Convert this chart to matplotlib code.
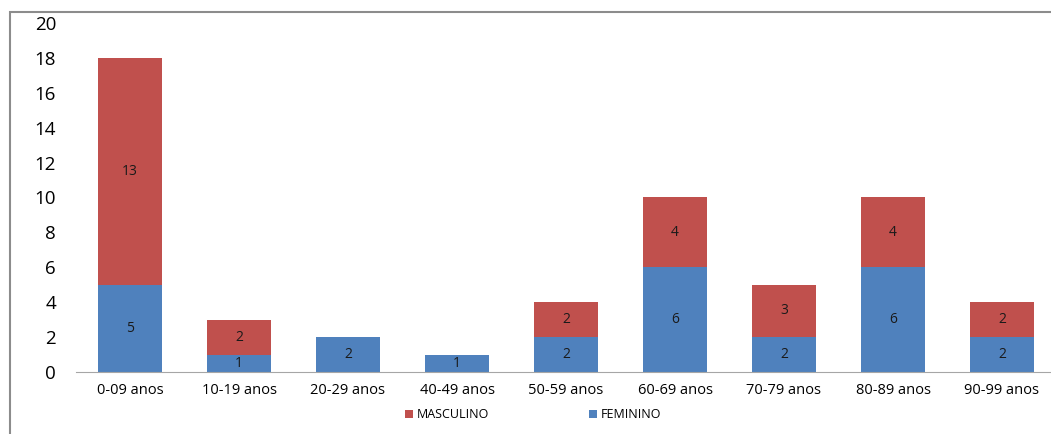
import numpy as np
import matplotlib
matplotlib.use("Agg")
import matplotlib.pyplot as plt
from matplotlib.patches import Rectangle

faixas = ["0-09 anos", "10-19 anos", "20-29 anos", "40-49 anos", "50-59 anos",
          "60-69 anos", "70-79 anos", "80-89 anos", "90-99 anos"]
feminino = [5, 1, 2, 1, 2, 6, 2, 6, 2]
masculino = [13, 2, 0, 0, 2, 4, 3, 4, 2]
y_ticks = [0, 2, 4, 6, 8, 10, 12, 14, 16, 18, 20]

cor_m = "#C0504D"
cor_f = "#4F81BD"

plt.rcParams["font.family"] = ["Open Sans", "DejaVu Sans"]

fig = plt.figure(figsize=(10.51, 4.34), dpi=100)
# moldura cinza do grafico (so topo e esquerda aparecem no recorte)
fig.patches.append(Rectangle((10 / 1051, -0.1), 1.2, 1 - 12 / 434 + 0.1,
                             transform=fig.transFigure, fill=False,
                             edgecolor="#8c8c8c", linewidth=1.5))

ax = fig.add_axes([75.5 / 1051, 1 - 372 / 434, 981 / 1051, 349 / 434])
x = np.arange(len(faixas))
largura = 0.58

b_f = ax.bar(x, feminino, largura, color=cor_f, label="FEMININO")
b_m = ax.bar(x, masculino, largura, bottom=feminino, color=cor_m, label="MASCULINO")

for i in range(len(faixas)):
    if feminino[i] > 0:
        ax.text(x[i], feminino[i] / 2, str(feminino[i]), ha="center", va="center",
                fontsize=10, color="#1a1a1a")
    if masculino[i] > 0:
        ax.text(x[i], feminino[i] + masculino[i] / 2, str(masculino[i]),
                ha="center", va="center", fontsize=10, color="#1a1a1a")

ax.set_xlim(-0.5, len(faixas) - 0.5)
ax.set_ylim(0, 20)
ax.set_yticks(y_ticks)
ax.set_xticks(x)
ax.set_xticklabels(faixas, fontsize=10.5)
ax.tick_params(axis="y", length=0, labelsize=13.5, pad=14)
ax.tick_params(axis="x", length=0, pad=8)
for s in ["top", "right", "left"]:
    ax.spines[s].set_visible(False)
ax.spines["bottom"].set_color("#a6a6a6")

h = [b_m, b_f]
fig.legend(h, ["MASCULINO", "FEMININO"], loc="center", bbox_to_anchor=(533 / 1051, 1 - 415 / 434),
           ncol=2, frameon=False, fontsize=9, handlelength=0.65, handleheight=0.65,
           handletextpad=0.3, columnspacing=8)

plt.savefig("out.png", dpi=100)
